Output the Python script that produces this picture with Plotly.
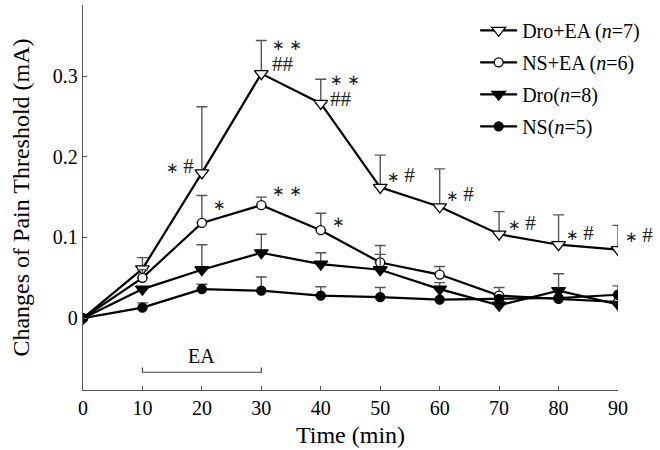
import plotly.graph_objects as go

# Time points (min)
time = [0, 10, 20, 30, 40, 50, 60, 70, 80, 90]

# Mean change of pain threshold (mA) and upper SEM per group
dro_ea = [0, 0.061, 0.180, 0.303, 0.266, 0.162, 0.138, 0.104, 0.091, 0.085]
dro_ea_err = [0, 0.014, 0.082, 0.041, 0.030, 0.040, 0.047, 0.028, 0.037, 0.030]

ns_ea = [0, 0.050, 0.118, 0.140, 0.109, 0.069, 0.054, 0.028, 0.024, 0.020]
ns_ea_err = [0, 0.010, 0.034, 0.010, 0.021, 0.021, 0.010, 0.010, 0.0, 0.0]

dro = [0, 0.036, 0.060, 0.081, 0.067, 0.060, 0.036, 0.016, 0.034, 0.017]
dro_err = [0, 0.0, 0.031, 0.023, 0.014, 0.019, 0.008, 0.0, 0.021, 0.0]

ns = [0, 0.013, 0.036, 0.034, 0.028, 0.026, 0.023, 0.024, 0.025, 0.029]
ns_err = [0, 0.006, 0.006, 0.017, 0.011, 0.012, 0.0, 0.0, 0.0, 0.011]

group_names = ["Dro+EA (<i>n</i>=7)", "NS+EA (<i>n</i>=6)", "Dro(<i>n</i>=8)", "NS(<i>n</i>=5)"]
symbols = ["triangle-down", "circle", "triangle-down", "circle"]
fills = ["white", "white", "black", "black"]
sizes = [12, 9, 12, 9]

STAR = "<span style='font-family:DejaVu Sans;font-size:15px'>∗</span>"
HASH = "<span style='font-size:21px'>#</span>"

# Significance marks: (time, y position, text, x offset in px)
sig_marks = [
    (20, 0.188, STAR + " " + HASH, -6),
    (30, 0.340, STAR + " " + STAR, 9),
    (30, 0.315, HASH + HASH, 9),
    (40, 0.297, STAR + " " + STAR, 7),
    (40, 0.271, HASH + HASH, 7),
    (50, 0.178, STAR + " " + HASH, 5),
    (60, 0.154, STAR + " " + HASH, 4),
    (70, 0.118, STAR + " " + HASH, 7),
    (80, 0.106, STAR + " " + HASH, 5),
    (90, 0.103, STAR + " " + HASH, 5),
    (20, 0.140, STAR, 9),
    (30, 0.160, STAR + " " + STAR, 9),
    (40, 0.119, STAR, 9),
]

# Electroacupuncture period
ea_start, ea_end = 10, 30
ea_level = -0.067

FONT = "Liberation Serif, Times New Roman, serif"

fig = go.Figure()

series = [dro_ea, ns_ea, dro, ns]
errors = [dro_ea_err, ns_ea_err, dro_err, ns_err]
for i, (name, vals, errs, sym, fc, sz) in enumerate(zip(group_names, series, errors, symbols, fills, sizes)):
    fig.add_trace(go.Scatter(
        x=time, y=vals, name=name, mode="lines+markers", legendgroup=f"g{i}",
        line=dict(color="black", width=2.2),
        marker=dict(symbol=sym, size=sz, color=fc, line=dict(color="black", width=1.3)),
        error_y=dict(type="data", array=errs, arrayminus=[0] * len(errs), symmetric=False,
                     color="#555555", thickness=1.4, width=5.5),
    ))

# EA bracket
fig.add_trace(go.Scatter(
    x=[ea_start, ea_start, ea_end, ea_end],
    y=[ea_level + 0.006, ea_level, ea_level, ea_level + 0.006],
    mode="lines", line=dict(color="#444444", width=1.2),
    showlegend=False, hoverinfo="skip",
))
fig.add_annotation(x=(ea_start + ea_end) / 2, y=ea_level, text="EA", showarrow=False,
                   yanchor="bottom", yshift=3, font=dict(family=FONT, size=20, color="black"))

for tx, ty, txt, dx in sig_marks:
    fig.add_annotation(x=tx, y=ty, text=txt, showarrow=False,
                       xanchor=("right" if dx < 0 else "left"), xshift=dx,
                       font=dict(family=FONT, size=19, color="#222222"))

fig.update_layout(
    width=660, height=450,
    margin=dict(l=83, r=42, t=5, b=60),
    paper_bgcolor="white", plot_bgcolor="white",
    font=dict(family=FONT, size=20, color="black"),
    showlegend=True,
    legend=dict(x=0.733, y=0.985, xanchor="left", yanchor="top",
                bgcolor="rgba(0,0,0,0)", font=dict(family=FONT, size=20),
                tracegroupgap=3, itemwidth=37),
    xaxis=dict(range=[0, 90], tickvals=time, showline=True, linecolor="#555555", linewidth=1.3,
               ticks="inside", ticklen=4, tickcolor="#555555", showgrid=False, zeroline=False,
               title=dict(text="Time (min)", standoff=8), tickfont=dict(size=20)),
    yaxis=dict(range=[-0.089, 0.388], tickvals=[0, 0.1, 0.2, 0.3], ticktext=["0", "0.1", "0.2", "0.3"],
               showline=True, linecolor="#555555", linewidth=1.3, ticks="inside", ticklen=4,
               tickcolor="#555555", showgrid=False, zeroline=False,
               title=dict(text="Changes of Pain Threshold (mA)", standoff=16), tickfont=dict(size=20)),
)

fig.write_html("out.html")
